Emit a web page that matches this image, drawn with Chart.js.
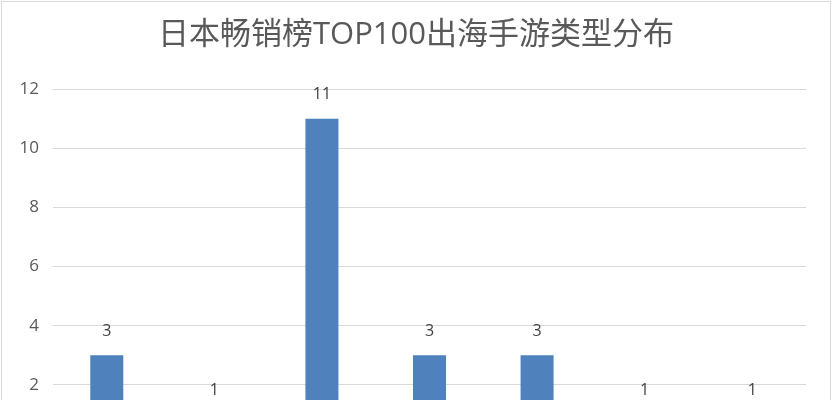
<!DOCTYPE html>
<html>
<head>
<meta charset="utf-8">
<script src="https://cdn.jsdelivr.net/npm/chart.js@4"></script>
<style>
  html, body { margin: 0; padding: 0; background: #fff; overflow: hidden; }
  #wrap { position: absolute; left: 1px; top: 1px; width: 828px; height: 482px; border: 1px solid #d9d9d9; }
</style>
</head>
<body>
<div id="wrap"><canvas id="c"></canvas></div>
<script>
// categories are below the visible area in the reference
const categories = ['角色扮演', '休闲', '策略', '动作', '卡牌', '模拟', '射击'];
const counts = [3, 1, 11, 3, 3, 1, 1];
const yTicks = [0, 2, 4, 6, 8, 10, 12];

const FONT = '"Open Sans", "Noto Sans CJK SC", sans-serif';

// value labels above each bar
const barLabels = {
  id: 'barLabels',
  afterDatasetsDraw(chart) {
    const ctx = chart.ctx;
    const meta = chart.getDatasetMeta(0);
    ctx.save();
    ctx.font = '16px ' + FONT;
    ctx.fillStyle = '#404040';
    ctx.textAlign = 'center';
    ctx.textBaseline = 'middle';
    meta.data.forEach((bar, i) => {
      ctx.fillText(String(counts[i]), bar.x, bar.y - 24);
    });
    ctx.restore();
  }
};

new Chart(document.getElementById('c'), {
  type: 'bar',
  data: {
    labels: categories,
    datasets: [{
      label: '数量',
      data: counts,
      backgroundColor: '#4f81bd',
      borderWidth: 0,
      categoryPercentage: 1,
      barPercentage: 0.307
    }]
  },
  options: {
    responsive: true,
    maintainAspectRatio: false,
    animation: false,
    layout: { padding: 0 },
    plugins: {
      legend: { display: false },
      tooltip: { enabled: false },
      title: {
        display: true,
        text: '日本畅销榜TOP100出海手游类型分布',
        color: '#595959',
        font: { family: FONT, size: 31, weight: 'normal' },
        padding: { top: 15, bottom: 35 }
      }
    },
    scales: {
      x: {
        grid: { display: false },
        border: { display: false },
        ticks: { color: '#595959', font: { family: FONT, size: 16 } },
        afterFit: s => { s.height = 40; }
      },
      y: {
        min: 0,
        max: 12,
        afterBuildTicks: s => { s.ticks = yTicks.map(v => ({ value: v })); },
        grid: { color: '#d9d9d9', lineWidth: 1, drawTicks: false },
        border: { display: false },
        ticks: { color: '#595959', padding: 14, font: { family: FONT, size: 17 } },
        afterFit: s => { s.width = 51; }
      },
      // empty right-hand gutter so the title stays centred on the whole chart
      y2: {
        position: 'right',
        min: 0,
        max: 12,
        grid: { display: false },
        border: { display: false },
        ticks: { display: false },
        afterFit: s => { s.width = 24; }
      }
    }
  },
  plugins: [barLabels]
});
</script>
</body>
</html>
